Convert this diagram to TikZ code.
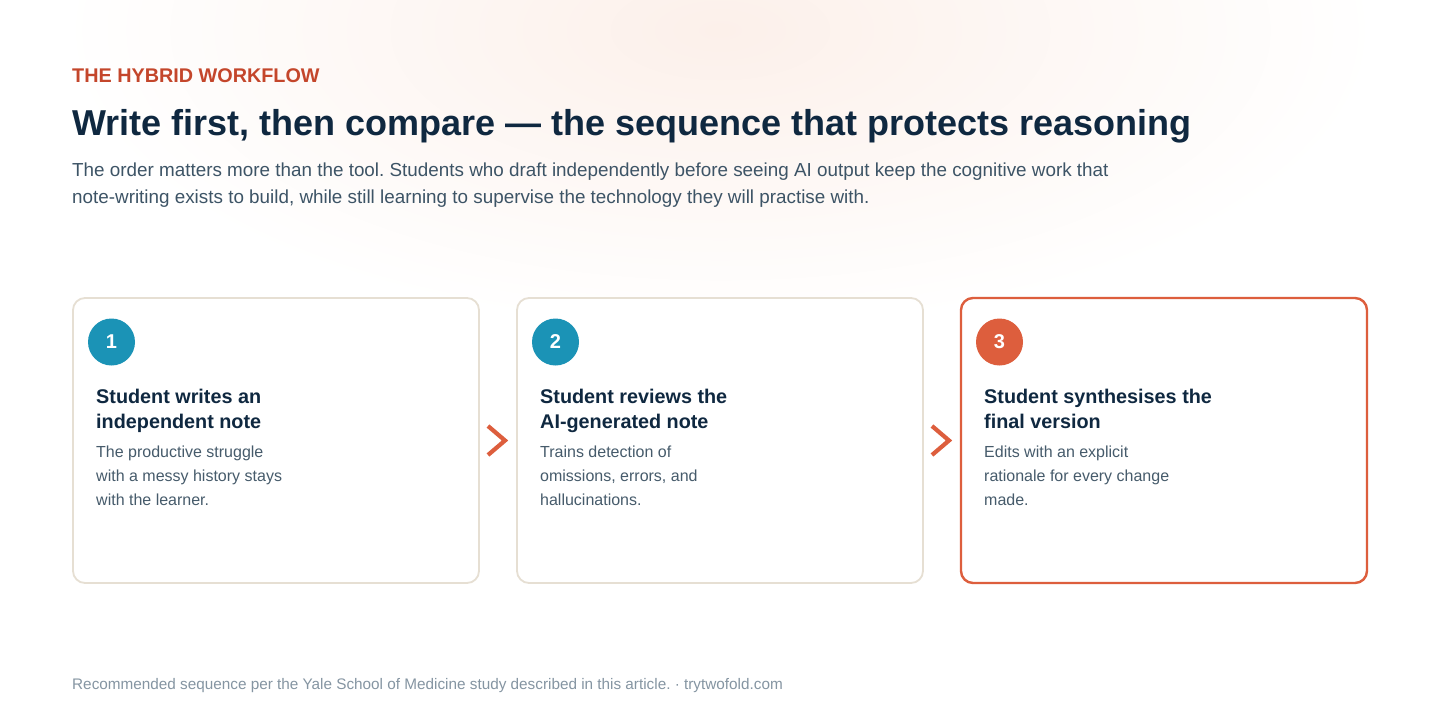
\documentclass[tikz,border=0pt]{standalone}
\usepackage{fontspec}
\setmainfont{Liberation Sans}
\usetikzlibrary{positioning,calc}
\frenchspacing

\definecolor{navy}{HTML}{0F2840}
\definecolor{rust}{HTML}{C4462B}
\definecolor{slate}{HTML}{3D5466}
\definecolor{bodygray}{HTML}{465B6B}
\definecolor{footgray}{HTML}{8595A2}
\definecolor{sand}{HTML}{E6DFD3}
\definecolor{teal}{HTML}{1B93B6}
\definecolor{coral}{HTML}{DD5E3D}
\definecolor{glow}{HTML}{FCF0EA}

\tikzset{
  card/.style={draw=sand, line width=1.8pt, fill=white, rounded corners=12pt,
    minimum width=406pt, minimum height=285pt, outer sep=0pt, inner sep=0pt},
  lastcard/.style={card, draw=coral, line width=2.4pt},
  numdot/.style={circle, fill=teal, minimum size=47pt, inner sep=0pt,
    text=white, font=\fontsize{20}{24}\selectfont\bfseries},
  stephead/.style={anchor=north west, inner sep=0pt, align=left, text=navy,
    font=\fontsize{19.8}{25}\selectfont\bfseries},
  stepbody/.style={anchor=north west, inner sep=0pt, align=left, text=bodygray,
    font=\fontsize{16}{24}\selectfont},
  chev/.style={draw=coral, line width=4.2pt, miter limit=10},
}

\begin{document}
\begin{tikzpicture}[x=1pt, y=-1pt]
  \useasboundingbox (0,0) rectangle (1440,720);
  \fill[white] (0,0) rectangle (1440,720);
  \shade[inner color=glow, outer color=white] (720,30) ellipse [x radius=660, y radius=300];

  % heading
  \node[anchor=north west, inner sep=0pt, text=rust,
        font=\fontsize{19.8}{24}\selectfont\bfseries] (kicker) at (72,68.5) {THE HYBRID WORKFLOW};
  \node[anchor=north west, inner sep=0pt, text=navy,
        font=\fontsize{36}{42}\selectfont\bfseries] (headline) at (72,109)
        {Write first, then compare — the sequence that protects reasoning};
  \node[anchor=north west, inner sep=0pt, align=left, text=slate,
        font=\fontsize{18.85}{27}\selectfont] (lede) at (72,162.5)
        {The order matters more than the tool. Students who draft independently before seeing AI output keep the cognitive work that\\
         note-writing exists to build, while still learning to supervise the technology they will practise with.};

  % cards
  \node[card] (card1) at (276,440.5) {};
  \node[card, right=38pt of card1] (card2) {};
  \node[lastcard, right=38pt of card2] (card3) {};

  \node[numdot] (num1) at ($(card1.north west)+(38.5,44)$) {1};
  \node[numdot] (num2) at ($(card2.north west)+(38.5,44)$) {2};
  \node[numdot, fill=coral] (num3) at ($(card3.north west)+(38.5,44)$) {3};

  \node[stephead] (head1) at ($(card1.north west)+(23,91)$) {Student writes an\\independent note};
  \node[stephead] (head2) at ($(card2.north west)+(23,91)$) {Student reviews the\\AI-generated note};
  \node[stephead] (head3) at ($(card3.north west)+(23,91)$) {Student synthesises the\\final version};

  \node[stepbody] (body1) at ($(card1.north west)+(23,148)$)
        {The productive struggle\\with a messy history stays\\with the learner.};
  \node[stepbody] (body2) at ($(card2.north west)+(23,148)$)
        {Trains detection of\\omissions, errors, and\\hallucinations.};
  \node[stepbody] (body3) at ($(card3.north west)+(23,148)$)
        {Edits with an explicit\\rationale for every change\\made.};

  % chevrons between the cards
  \coordinate (gap1) at ($(card1.east)!0.5!(card2.west)$);
  \coordinate (gap2) at ($(card2.east)!0.5!(card3.west)$);
  \foreach \g in {gap1,gap2}
    \draw[chev] ($(\g)+(-10,-14.5)$) -- ($(\g)+(7,0)$) -- ($(\g)+(-10,14.5)$);

  % footer
  \node[anchor=north west, inner sep=0pt, text=footgray,
        font=\fontsize{15.3}{18}\selectfont] (source) at (72,678)
        {Recommended sequence per the Yale School of Medicine study described in this article. · trytwofold.com};
\end{tikzpicture}
\end{document}
